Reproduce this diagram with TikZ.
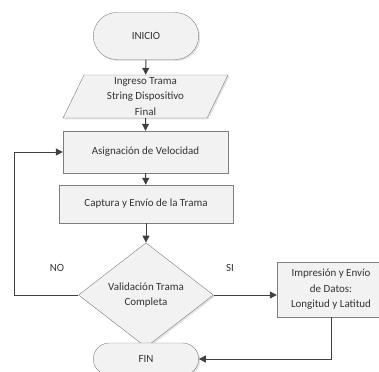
\documentclass[tikz,border=0pt]{standalone}
\usepackage{fontspec}
\setmainfont{Carlito}
\usetikzlibrary{arrows.meta,shapes.geometric,shapes.misc,shadows}
\definecolor{borde}{HTML}{7F7F7F}
\definecolor{relleno}{HTML}{F2F2F2}
\definecolor{flecha}{HTML}{404040}

\begin{document}
\begin{tikzpicture}[x=1bp,y=-1bp,font=\fontsize{11}{15.5}\selectfont]
\useasboundingbox (0,0) rectangle (379,372);
\begin{scope}[every node/.style={draw=borde,fill=relleno,text=black!80,align=center,
              drop shadow={shadow xshift=1.5pt,shadow yshift=-1.5pt,fill=gray!45}}]
    \node[rounded rectangle,minimum width=112bp,minimum height=47bp] (inicio) at (146,36) {INICIO};
    \node[trapezium,trapezium left angle=71,trapezium right angle=109,trapezium stretches=true,
          minimum width=165bp,minimum height=43bp,inner sep=0pt] (ingreso) at (145.5,96.5)
          {Ingreso Trama\\String Dispositivo\\Final};
    \node[rectangle,minimum width=165bp,minimum height=42bp] (asig) at (145.5,152) {Asignación de Velocidad};
    \node[rectangle,minimum width=174bp,minimum height=38bp] (captura) at (146,204) {Captura y Envío de la Trama};
    \node[diamond,minimum width=135bp,minimum height=80bp,inner sep=1pt] (valid) at (146,295)
          {Validación Trama\\Completa};
    \node[rectangle,minimum width=108bp,minimum height=55bp,inner sep=1pt] (impr) at (331,289.5)
          {Impresión y Envío\\de Datos:\\Longitud y Latitud};
    \node[rounded rectangle,minimum width=112bp,minimum height=32bp] (fin) at (146,359) {FIN};
\end{scope}

\node[text=black!80] (no) at (57,268) {NO};
\node[text=black!80] (si) at (230,268) {SI};
\coordinate (izq) at (14,152);

\begin{scope}[every edge/.style={draw=flecha,line width=1pt,-{Triangle[length=7pt,width=7pt]}}]
    \path (inicio) edge (ingreso);
    \path (ingreso) edge (asig);
    \path (asig) edge (captura);
    \path (captura) edge (valid);
    \path (valid.east) edge (valid.east -| impr.west);
    \draw[flecha,line width=1pt,-{Triangle[length=7pt,width=7pt]}] (valid.west) -| (izq) -- (asig.west);
    \draw[flecha,line width=1pt,-{Triangle[length=7pt,width=7pt]}] (impr.south) |- (fin.east);
\end{scope}
\end{tikzpicture}
\end{document}
